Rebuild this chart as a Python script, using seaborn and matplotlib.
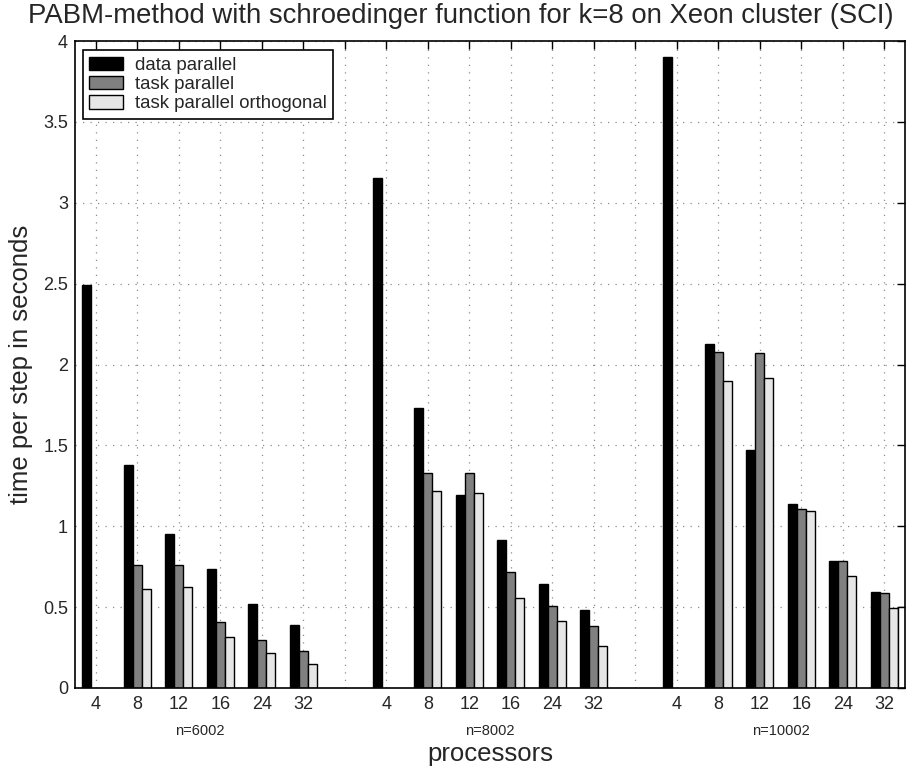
import numpy as np
import pandas as pd
import matplotlib
matplotlib.use("Agg")
import matplotlib.pyplot as plt
import matplotlib.patches as mpatches
import matplotlib.transforms as mtransforms
import seaborn as sns

# ---------------- data ----------------
groups = ["n=6002", "n=8002", "n=10002"]
procs = ["4", "8", "12", "16", "24", "32"]
series = ["data parallel", "task parallel", "task parallel orthogonal"]
nan = np.nan
data_parallel_6002 = [2.49, 1.378, 0.955, 0.735, 0.519, 0.391]
data_parallel_8002 = [3.15, 1.729, 1.195, 0.913, 0.645, 0.484]
data_parallel_10002 = [3.90, 2.128, 1.471, 1.137, 0.785, 0.592]
task_parallel_6002 = [nan, 0.760, 0.758, 0.410, 0.297, 0.229]
task_parallel_8002 = [nan, 1.331, 1.331, 0.717, 0.507, 0.386]
task_parallel_10002 = [nan, 2.078, 2.072, 1.108, 0.785, 0.588]
task_orth_6002 = [nan, 0.612, 0.626, 0.313, 0.218, 0.148]
task_orth_8002 = [nan, 1.216, 1.204, 0.559, 0.416, 0.262]
task_orth_10002 = [nan, 1.897, 1.914, 1.096, 0.693, 0.493]
# partially visible extra bar at the right border (last position, n=10002)
extra_value = 0.502

colors = {"data parallel": "#000000", "task parallel": "#808080",
          "task parallel orthogonal": "#e6e6e6"}

values = {
    "data parallel": [data_parallel_6002, data_parallel_8002, data_parallel_10002],
    "task parallel": [task_parallel_6002, task_parallel_8002, task_parallel_10002],
    "task parallel orthogonal": [task_orth_6002, task_orth_8002, task_orth_10002],
}

slots_per_group = len(procs) + 1
rows = []
for s in series:
    for g in range(len(groups)):
        for i, v in enumerate(values[s][g]):
            if not np.isnan(v):
                rows.append({"slot": g * slots_per_group + i + 1, "series": s, "time": v})
df = pd.DataFrame(rows)

# ---------------- style ----------------
sns.set_style("white")
plt.rcParams["font.family"] = ["Liberation Sans", "DejaVu Sans"]

fig = plt.figure(figsize=(9.06, 7.72), dpi=100)
ax = fig.add_axes([75 / 906, 1 - 688 / 772, 830 / 906, 647 / 772])

bar_width_total = 0.65
sns.barplot(data=df, x="slot", y="time", hue="series", hue_order=series,
            palette=colors, native_scale=True, dodge=True, errorbar=None,
            width=bar_width_total, edgecolor="black", linewidth=1.0,
            ax=ax, legend=False, zorder=3)

# extra partially visible bar (clipped by the axes frame)
last_slot = (len(groups) - 1) * slots_per_group + len(procs)
single_w = bar_width_total / len(series)
ax.bar([last_slot + 2 * single_w], [extra_value], width=single_w,
       color="white", edgecolor="black", linewidth=1.0, zorder=3)

n_slots = len(groups) * slots_per_group - 1
ax.set_xlim(0.5, n_slots + 0.5)
ax.set_ylim(0, 4)

xt = list(range(1, n_slots + 1))
xl = []
for g in range(len(groups)):
    xl += procs
    if g < len(groups) - 1:
        xl += [""]
ax.set_xticks(xt)
ax.set_xticklabels(xl, fontsize=13)
yt = np.arange(0, 4.01, 0.5)
ax.set_yticks(yt)
ax.set_yticklabels(["0", "0.5", "1", "1.5", "2", "2.5", "3", "3.5", "4"], fontsize=13)

ax.tick_params(axis="both", direction="in", top=True, right=True,
               length=6, width=1.0, color="black")
ax.tick_params(axis="x", pad=6)
ax.tick_params(axis="y", pad=5)

ax.grid(True, linestyle=(0, (1, 5)), color="#8c8c8c", linewidth=0.9)
ax.set_axisbelow(True)
for sp in ax.spines.values():
    sp.set_visible(True)
    sp.set_color("black")
    sp.set_linewidth(1.2)
    sp.set_zorder(5)

# group labels
trans = mtransforms.blended_transform_factory(ax.transData, ax.transAxes)
for g, name in enumerate(groups):
    center = g * slots_per_group + (len(procs) + 1) / 2
    ax.text(center, -0.067, name, transform=trans, ha="center", va="center",
            fontsize=10.5)

ax.set_xlabel("processors", fontsize=18.5)
ax.xaxis.set_label_coords(0.5, -0.084)
ax.set_ylabel("time per step in seconds", fontsize=18.5)
ax.yaxis.set_label_coords(-0.050, 0.5)
ax.set_title("PABM-method with schroedinger function for k=8 on Xeon cluster (SCI)",
             fontsize=19.8, pad=13, x=0.465)

handles = [mpatches.Patch(facecolor=colors[s], edgecolor="black", linewidth=1.0, label=s)
           for s in series]
leg = ax.legend(handles=handles, loc="upper left", bbox_to_anchor=(0.0096, 0.986),
                borderaxespad=0, fontsize=13.4, frameon=True, fancybox=False,
                edgecolor="black", framealpha=1, handlelength=1.8, handleheight=0.75,
                labelspacing=0.1, borderpad=0.35, handletextpad=0.65)
leg.get_frame().set_linewidth(1.2)
leg.set_zorder(10)

fig.savefig("out.png", dpi=100)
